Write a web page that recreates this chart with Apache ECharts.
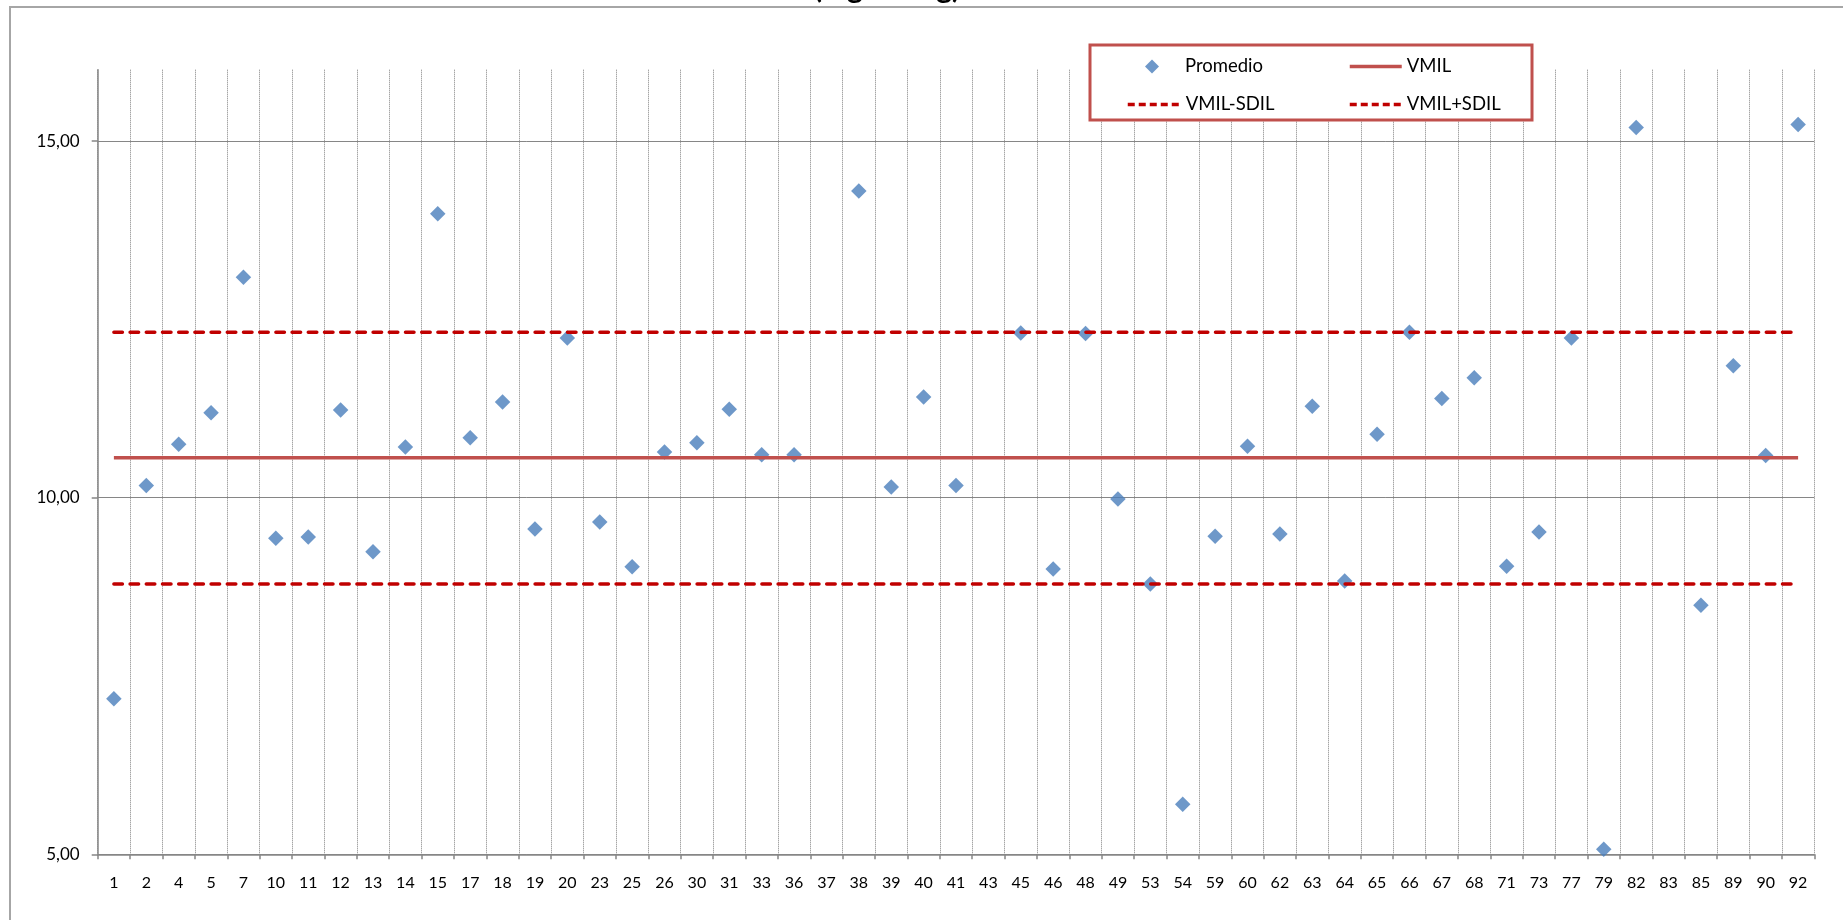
<!DOCTYPE html>
<html><head><meta charset="utf-8">
<script src="https://cdn.jsdelivr.net/npm/echarts@6/dist/echarts.min.js"></script>
<style>html,body{margin:0;padding:0;background:#fff}#c{width:1843px;height:920px}</style>
</head><body><div id="c"></div>
<script>
// Categories (sample ids) on the x axis
const categories = ['1','2','4','5','7','10','11','12','13','14','15','17','18','19','20','23','25','26','30','31','33','36','37','38','39','40','41','43','45','46','48','49','53','54','59','60','62','63','64','65','66','67','68','71','73','77','79','82','83','85','89','90','92'];
// Promedio values (null = no point)
const promedio = [7.18,10.17,10.75,11.19,13.09,9.43,9.45,11.23,9.24,10.71,13.98,10.84,11.34,9.56,12.24,9.66,9.03,10.64,10.77,11.24,10.60,10.60,null,14.30,10.15,11.41,10.17,null,12.31,9.00,12.30,9.98,8.79,5.70,9.46,10.72,9.49,11.28,8.83,10.89,12.32,11.39,11.68,9.04,9.52,12.24,5.07,15.19,null,8.49,11.85,10.59,15.23];
// Reference levels
const vmil = 10.56;
const vmilMinusSdil = 8.79;
const vmilPlusSdil = 12.32;
// Y axis ticks
const yMin = 5, yMax = 16, yInterval = 5;

const chart = echarts.init(document.getElementById('c'));
const font = 'Lato';
const axisGray = '#868686';
const legendText = {fontFamily: font, fontSize: 18.5, color: '#000', lineHeight: 14};
const hiddenSymbol = {color: 'rgba(0,0,0,0)', borderWidth: 0, opacity: 0};

chart.setOption({
  backgroundColor: '#fff',
  animation: false,
  graphic: [
    {type: 'rect', z: 0, silent: true, shape: {x: 10, y: 7, width: 1900, height: 1000},
     style: {fill: 'rgba(0,0,0,0)', stroke: '#A6A6A6', lineWidth: 2}},
    {type: 'rect', z: 3, silent: true, shape: {x: 1090, y: 45, width: 442, height: 75},
     style: {fill: '#fff', stroke: '#C0504D', lineWidth: 3}},
    {type: 'text', z: 5, x: 887, y: 3, silent: true,
     style: {text: '(mg/100 g)', fontSize: 30, fontWeight: 'bold', fontFamily: 'Lato', fill: '#000',
             align: 'center', verticalAlign: 'bottom', textAlign: 'center', textVerticalAlign: 'bottom'}}
  ],
  legend: [
    {data: [{name: 'Promedio', icon: 'diamond'}], left: 1145, top: 57, padding: 0, itemWidth: 14, itemHeight: 14, selectedMode: false,
     textStyle: Object.assign({}, legendText, {padding: [0, 0, 0, 21]}), z: 10},
    {data: ['VMIL'], left: 1348, top: 57, padding: 0, itemWidth: 52, itemHeight: 14, selectedMode: false, textStyle: legendText, z: 10,
     itemStyle: hiddenSymbol, lineStyle: {width: 3.5}},
    {data: ['VMIL-SDIL'], left: 1126, top: 95, padding: 0, itemWidth: 53, itemHeight: 14, selectedMode: false, textStyle: legendText, z: 10,
     itemStyle: hiddenSymbol, lineStyle: {width: 3.5, type: [7, 4], cap: 'butt'}},
    {data: ['VMIL+SDIL'], left: 1348, top: 95, padding: 0, itemWidth: 52, itemHeight: 14, selectedMode: false, textStyle: legendText, z: 10,
     itemStyle: hiddenSymbol, lineStyle: {width: 3.5, type: [7, 4], cap: 'butt'}}
  ],
  grid: {left: 97.7, right: 28.7, top: 69.7, bottom: 65.7, containLabel: false},
  xAxis: {
    type: 'category', data: categories, boundaryGap: true,
    axisLine: {lineStyle: {color: axisGray, width: 1.5}},
    axisTick: {show: true, length: 5, interval: 0, lineStyle: {color: axisGray, width: 1.5}},
    axisLabel: {interval: 0, fontFamily: font, fontSize: 16, color: '#000', margin: 21},
    splitLine: {show: true, interval: 0, lineStyle: {color: '#808080', width: 1, type: [1, 1]}}
  },
  yAxis: {
    type: 'value', min: yMin, max: yMax, interval: yInterval,
    axisLine: {show: true, lineStyle: {color: axisGray, width: 1.5}},
    axisTick: {show: true, length: 6, lineStyle: {color: axisGray, width: 1.5}},
    axisLabel: {fontFamily: font, fontSize: 17, color: '#000', margin: 18, showMaxLabel: false,
      formatter: v => v.toFixed(2).replace('.', ',')},
    splitLine: {show: true, showMaxLine: false, lineStyle: {color: axisGray, width: 1}}
  },
  series: [
    {name: 'Promedio', type: 'scatter', data: promedio, symbol: 'diamond', symbolSize: 15.5,
     itemStyle: {color: '#4A7EBB'}},
    {name: 'VMIL', type: 'line', data: categories.map(() => vmil), symbol: 'none', showSymbol: false,
     lineStyle: {color: '#C0504D', width: 3.5}, itemStyle: {color: '#C0504D'}},
    {name: 'VMIL-SDIL', type: 'line', data: categories.map(() => vmilMinusSdil), symbol: 'none', showSymbol: false,
     lineStyle: {color: '#C00000', width: 3.5, type: [8.5, 7.7], cap: 'round'}, itemStyle: {color: '#C00000'}},
    {name: 'VMIL+SDIL', type: 'line', data: categories.map(() => vmilPlusSdil), symbol: 'none', showSymbol: false,
     lineStyle: {color: '#C00000', width: 3.5, type: [8.5, 7.7], cap: 'round'}, itemStyle: {color: '#C00000'}}
  ]
});
</script>
</body></html>
